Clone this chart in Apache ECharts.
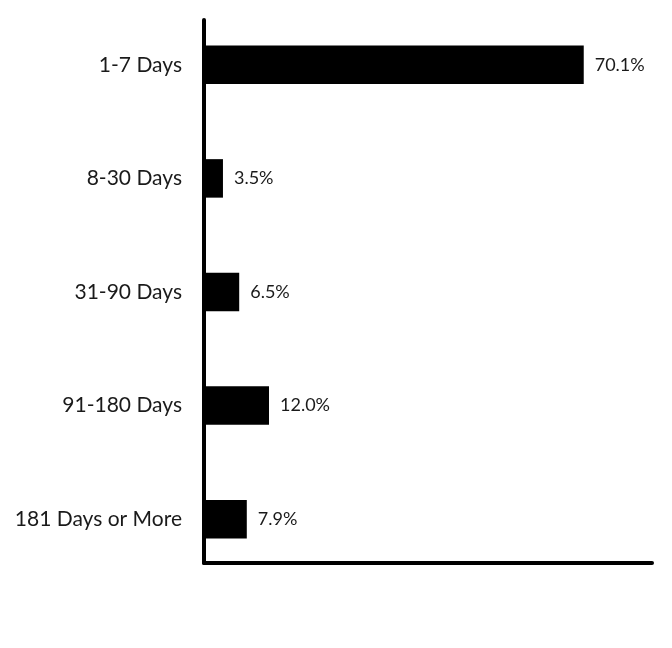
<!DOCTYPE html>
<html>
<head>
<meta charset="utf-8">
<script src="https://cdn.jsdelivr.net/npm/echarts@6/dist/echarts.min.js"></script>
<style>
  html, body { margin: 0; padding: 0; background: #ffffff; }
  #chart { width: 672px; height: 648px; }
</style>
</head>
<body>
<div id="chart"></div>
<script>
const categories = ['1-7 Days', '8-30 Days', '31-90 Days', '91-180 Days', '181 Days or More'];
const values = [70.1, 3.5, 6.5, 12.0, 7.9];
const valueLabels = ['70.1%', '3.5%', '6.5%', '12.0%', '7.9%'];

const FONT = 'Lato';
const xMax = 82.7;

const chart = echarts.init(document.getElementById('chart'), null, { renderer: 'canvas' });
chart.setOption({
  backgroundColor: '#ffffff',
  animation: false,
  grid: [
    { left: 204, right: 20, top: 8, bottom: 72, containLabel: false },
    { left: 204, right: 20, top: 20, bottom: 85, containLabel: false }
  ],
  xAxis: [
    {
      gridIndex: 0, type: 'value', min: 0, max: xMax,
      axisLine: { show: false }, axisTick: { show: false },
      axisLabel: { show: false }, splitLine: { show: false }
    },
    {
      gridIndex: 1, type: 'value', min: 0, max: xMax,
      axisLine: { show: true, lineStyle: { color: '#000', width: 4 } },
      axisTick: { show: false }, axisLabel: { show: false }, splitLine: { show: false }
    }
  ],
  yAxis: [
    {
      gridIndex: 0, type: 'category', data: categories, inverse: true,
      axisLine: { show: false }, axisTick: { show: false }, splitLine: { show: false },
      axisLabel: { color: '#1a1a1a', fontSize: 21, fontFamily: FONT, margin: 22, padding: [4, 0, 0, 0] }
    },
    {
      gridIndex: 1, type: 'value', min: 0, max: 1,
      axisLine: { show: true, lineStyle: { color: '#000', width: 4 } },
      axisTick: { show: false }, axisLabel: { show: false }, splitLine: { show: false }
    }
  ],
  series: [
    {
      type: 'bar',
      xAxisIndex: 0, yAxisIndex: 0,
      data: values,
      barWidth: 38.5,
      itemStyle: { color: '#000000' },
      label: {
        show: true, position: 'right', distance: 11,
        color: '#1a1a1a', fontSize: 18, fontFamily: FONT,
        formatter: p => valueLabels[p.dataIndex]
      }
    }
  ]
});
</script>
</body>
</html>
